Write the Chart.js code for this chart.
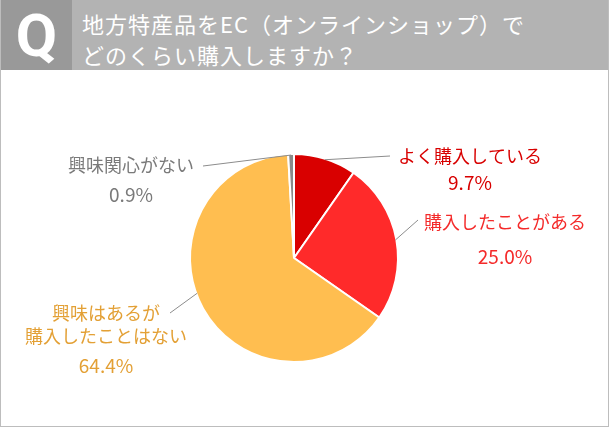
<!DOCTYPE html>
<html><head><meta charset="utf-8">
<script src="https://cdn.jsdelivr.net/npm/chart.js@4"></script>
<style>
html,body{margin:0;padding:0;background:#fff;}
#wrap{position:relative;width:609px;height:427px;box-sizing:border-box;border:1px solid #bdbdbd;border-top:none;overflow:hidden;font-family:"Noto Sans CJK JP","Noto Sans",sans-serif;}
#head{position:absolute;left:0;top:0;width:609px;height:70px;background:#b3b3b3;}
#q{position:absolute;left:0;top:0;width:71px;height:70px;background:#999999;color:#fff;font:bold 60px Roboto,"Open Sans",sans-serif;text-align:center;line-height:72px;}
#title{position:absolute;left:81px;top:8px;color:#fff;font-size:22px;line-height:31px;letter-spacing:1px;white-space:nowrap;}
#cv{position:absolute;left:-1px;top:70px;}
</style></head>
<body>
<div id="wrap">
<div id="head"><div id="q">Q</div><div id="title">地方特産品をEC（オンラインショップ）で<br>どのくらい購入しますか？</div></div>
<canvas id="cv" width="609" height="357"></canvas>
</div>
<script>
const categories = ["よく購入している", "購入したことがある", "興味はあるが\n購入したことはない", "興味関心がない"];
const values = [9.7, 25.0, 64.4, 0.9];
const valueLabels = ["9.7%", "25.0%", "64.4%", "0.9%"];
const sliceColors = ["#d90000", "#ff2a2a", "#ffbe50", "#8a8a8a"];
const textColors = ["#d80000", "#f42a2a", "#e3a035", "#7a7a7a"];
// label anchor positions (canvas coords): [lineEndX, lineEndY, textCenterX, firstLineY, lineStartAngleShift, percentGap]
const labelPos = [
  [390, 86, 470, 86, 0, 27],
  [418, 150, 505, 152, 0, 35],
  [170, 243, 106, 243, 0.16, 30],
  [203, 96, 131, 95, 0, 30]
];

const labelPlugin = {
  id: 'labels',
  afterDraw(chart) {
    const ctx = chart.ctx;
    const meta = chart.getDatasetMeta(0);
    ctx.save();
    meta.data.forEach((arc, i) => {
      const p = arc.getProps(['x','y','startAngle','endAngle','outerRadius'], true);
      const lp = labelPos[i];
      const mid = (p.startAngle + p.endAngle) / 2 + lp[4];
      const r = p.outerRadius - 1;
      const sx = p.x + Math.cos(mid) * r, sy = p.y + Math.sin(mid) * r;
      ctx.strokeStyle = '#8c8c8c';
      ctx.lineWidth = 1;
      ctx.beginPath(); ctx.moveTo(sx, sy); ctx.lineTo(lp[0], lp[1]); ctx.stroke();
      ctx.fillStyle = textColors[i];
      ctx.textAlign = 'center';
      ctx.textBaseline = 'middle';
      ctx.font = '18px "Noto Sans CJK JP", sans-serif';
      const lines = categories[i].split('\n');
      let y = lp[3];
      lines.forEach((ln, k) => { ctx.fillText(ln, lp[2], y); if (k < lines.length - 1) y += 23; });
      y += lp[5];
      ctx.font = '19px "Noto Sans CJK JP", sans-serif';
      ctx.fillText(valueLabels[i], lp[2], y);
    });
    ctx.restore();
  }
};

new Chart(document.getElementById('cv'), {
  type: 'pie',
  data: { labels: categories, datasets: [{ data: values, backgroundColor: sliceColors, borderColor: '#ffffff', borderWidth: 2 }] },
  options: {
    responsive: false, animation: false, radius: 104,
    layout: { padding: { left: 101, right: 122, top: 84, bottom: 65 } },
    plugins: { legend: { display: false }, tooltip: { enabled: false } }
  },
  plugins: [labelPlugin]
});
</script>
</body></html>
